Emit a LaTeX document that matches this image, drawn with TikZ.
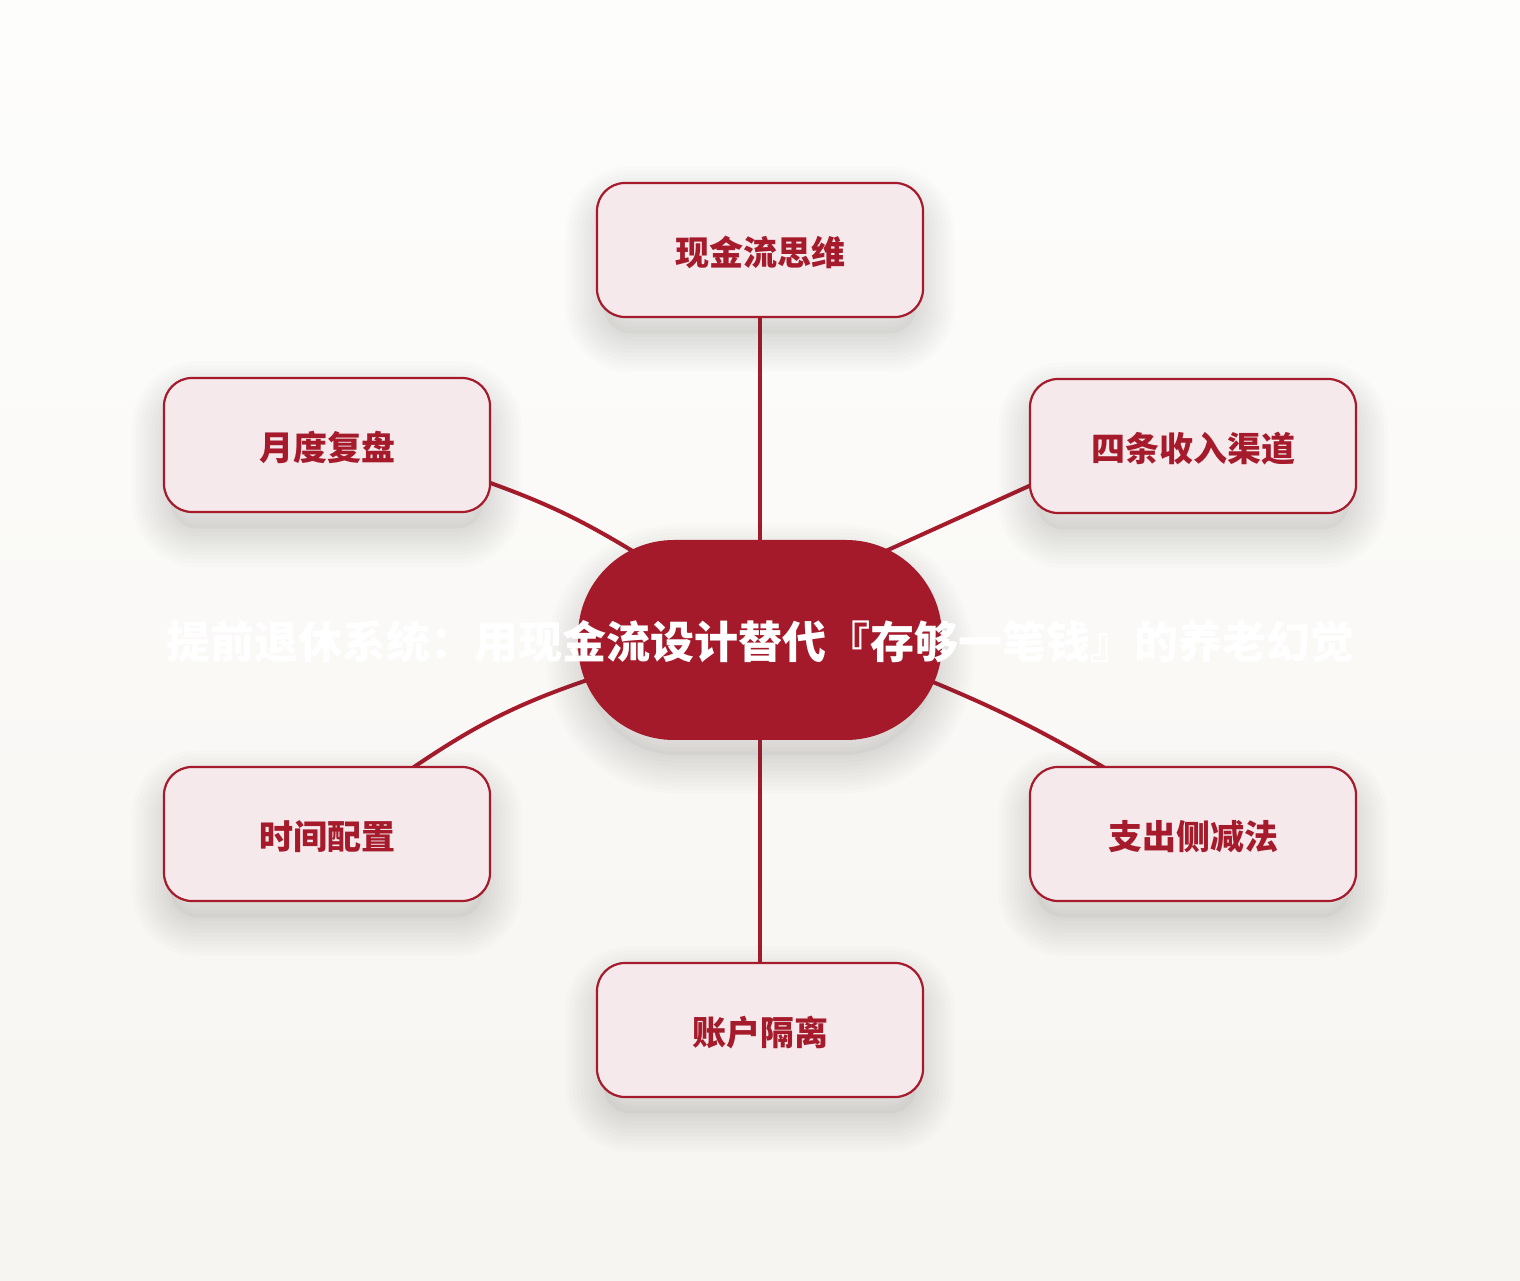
\documentclass[tikz,border=0pt]{standalone}
\usepackage{fontspec}
\newfontfamily\cjk{Noto Sans CJK SC}
\usetikzlibrary{shadows,calc}
\definecolor{mred}{HTML}{A51B2B}
\definecolor{cfill}{HTML}{A41A2A}
\definecolor{ofill}{HTML}{F5E9EC}
\definecolor{bgtop}{HTML}{FDFDFC}
\definecolor{bgbot}{HTML}{F7F5F1}
\definecolor{shc}{HTML}{5A564F}
\pgfdeclarelayer{bg}
\pgfdeclarelayer{edges}
\pgfsetlayers{bg,edges,main}
\tikzset{
  shring/.style={general shadow={draw=shc,line width=#1,opacity=0.017,shadow yshift=-20pt,shadow scale=0.96}},
  softshadow/.style={
    shring=80pt, shring=72pt, shring=64pt, shring=56pt, shring=48pt, shring=40pt,
    shring=32pt, shring=24pt, shring=16pt, shring=8pt,
    general shadow={fill=shc,opacity=0.05,shadow yshift=-20pt,shadow scale=0.96}},
  leaf/.style={softshadow, rectangle, rounded corners=28pt, draw=mred, line width=2.2pt,
    fill=ofill, minimum width=326pt, minimum height=134pt, inner sep=0pt, text=mred,
    text height=32pt, text depth=0pt,
    font=\cjk\bfseries\fontsize{34}{40}\selectfont},
  hub/.style={softshadow, rectangle, rounded corners=96pt, fill=cfill,
    minimum width=364pt, minimum height=200pt, inner sep=0pt, text=white,
    text height=37.5pt, text depth=0pt,
    font=\cjk\bfseries\fontsize{44}{52}\selectfont},
  conn/.style={draw=mred, line width=4pt, line cap=round}
}
\begin{document}
\begin{tikzpicture}[x=1pt,y=1pt]
\begin{pgfonlayer}{bg}
  \fill[top color=bgtop, bottom color=bgbot] (0,0) rectangle (1520,1280);
\end{pgfonlayer}
\useasboundingbox (0,0) rectangle (1520,1280);

\node[hub] (c) at (760,640) {\makebox[0pt]{提前退休系统：用现金流设计替代『存够一笔钱』的养老幻觉}};
\node[leaf] (t)  at (760,1030) {现金流思维};
\node[leaf] (ul) at (327,835)  {月度复盘};
\node[leaf] (ur) at (1193,834) {四条收入渠道};
\node[leaf] (ll) at (327,446)  {时间配置};
\node[leaf] (lr) at (1193,446) {支出侧减法};
\node[leaf] (b)  at (760,250)  {账户隔离};

\begin{pgfonlayer}{edges}
  \draw[conn] ($(c.north)+(0,-10)$) -- ($(t.south)+(0,10)$);
  \draw[conn] ($(c.south)+(0,10)$) -- ($(b.north)+(0,-10)$);
  \draw[conn] ($(c.center)+(-118.5,83.5)$) to[bend right=6] ($(ul.east)+(-9,-35)$);
  \draw[conn] ($(c.center)+(114.3,83.8)$) -- ($(ur.west)+(9,-36)$);
  \draw[conn] ($(c.center)+(-161.6,-36.3)$) to[bend right=8] ($(ll.north)+(82,-4.5)$);
  \draw[conn] ($(c.center)+(161.6,-37.3)$) to[bend left=4] ($(lr.north)+(-84,-4.5)$);
\end{pgfonlayer}
\end{tikzpicture}
\end{document}
